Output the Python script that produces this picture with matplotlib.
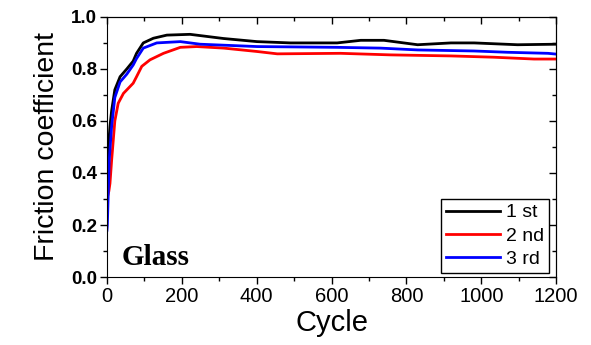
import matplotlib.pyplot as plt
from matplotlib.ticker import MultipleLocator, NullFormatter

plt.rcParams['font.family'] = ['Liberation Sans', 'DejaVu Sans']

# friction coefficient vs. cycle, three consecutive runs on glass
cycles_1st = [0, 3.5, 8, 12.5, 21, 35, 53, 70, 79, 97, 124, 160, 222, 311, 401,
              490, 615, 678, 740, 830, 919, 981, 1097, 1200]
fc_1st = [0.44, 0.49, 0.58, 0.64, 0.72, 0.77, 0.80, 0.83, 0.86, 0.90, 0.918, 0.93,
          0.933, 0.917, 0.905, 0.90, 0.90, 0.91, 0.91, 0.893, 0.90, 0.90, 0.893, 0.895]

cycles_2nd = [0, 5, 8, 12.5, 21, 30, 44, 70, 79, 93, 115, 151, 196, 240, 312,
              401, 455, 624, 758, 919, 1034, 1141, 1200]
fc_2nd = [0.30, 0.33, 0.36, 0.45, 0.60, 0.668, 0.706, 0.745, 0.77, 0.81, 0.835,
          0.86, 0.883, 0.886, 0.88, 0.867, 0.858, 0.86, 0.854, 0.85, 0.845, 0.838, 0.838]

cycles_3rd = [0, 1, 6, 12.5, 21, 35, 53, 70, 79, 97, 133, 196, 249, 401, 615,
              731, 830, 981, 1070, 1178, 1200]
fc_3rd = [0.18, 0.20, 0.45, 0.58, 0.69, 0.75, 0.78, 0.815, 0.84, 0.88, 0.90,
          0.905, 0.895, 0.886, 0.883, 0.88, 0.873, 0.869, 0.864, 0.86, 0.857]

labels = ['1 st', '2 nd', '3 rd']

fig = plt.figure(figsize=(5.91, 3.45), dpi=100)
ax = fig.add_axes([0.181, 0.197, 0.76, 0.754])

ax.plot(cycles_1st, fc_1st, color='black', lw=2, label=labels[0])
ax.plot(cycles_2nd, fc_2nd, color='red', lw=2, label=labels[1])
ax.plot(cycles_3rd, fc_3rd, color='blue', lw=2, label=labels[2])

ax.set_xlim(0, 1200)
ax.set_ylim(0, 1.0)
ax.xaxis.set_major_locator(MultipleLocator(200))
ax.xaxis.set_minor_locator(MultipleLocator(100))
ax.yaxis.set_major_locator(MultipleLocator(0.2))
ax.yaxis.set_minor_locator(MultipleLocator(0.1))
ax.yaxis.set_major_formatter(lambda v, p: f'{v:.1f}')

ax.tick_params(which='major', direction='out', length=5, width=1)
ax.tick_params(which='minor', direction='out', length=3, width=1)
ax.tick_params(axis='x', labelsize=14.5, pad=2)
ax.tick_params(axis='y', labelsize=13.5, pad=2)
for t in ax.get_yticklabels():
    t.set_fontweight('bold')

# mirrored ticks on top and right, pointing inward, no labels
top = ax.secondary_xaxis('top')
top.xaxis.set_major_locator(MultipleLocator(200))
top.xaxis.set_minor_locator(MultipleLocator(100))
top.xaxis.set_major_formatter(NullFormatter())
right = ax.secondary_yaxis('right')
right.yaxis.set_major_locator(MultipleLocator(0.2))
right.yaxis.set_minor_locator(MultipleLocator(0.1))
right.yaxis.set_major_formatter(NullFormatter())
for sec in (top, right):
    sec.tick_params(which='major', direction='in', length=5, width=1)
    sec.tick_params(which='minor', direction='in', length=3, width=1)

ax.set_xlabel('Cycle', fontsize=21, labelpad=2)
ax.set_ylabel('Friction coefficient', fontsize=20.5, labelpad=8)

ax.text(39, 0.046, 'Glass', fontsize=21, fontweight='bold',
        family=['Liberation Serif', 'DejaVu Serif'])

leg = ax.legend(loc='lower right', bbox_to_anchor=(0.984, 0.015), fontsize=14,
                frameon=True, fancybox=False, edgecolor='black', framealpha=1,
                handlelength=2.8, handletextpad=0.3, labelspacing=0.3,
                borderpad=0.25, borderaxespad=0)
leg.get_frame().set_linewidth(1)

fig.savefig('out.png', dpi=100)
